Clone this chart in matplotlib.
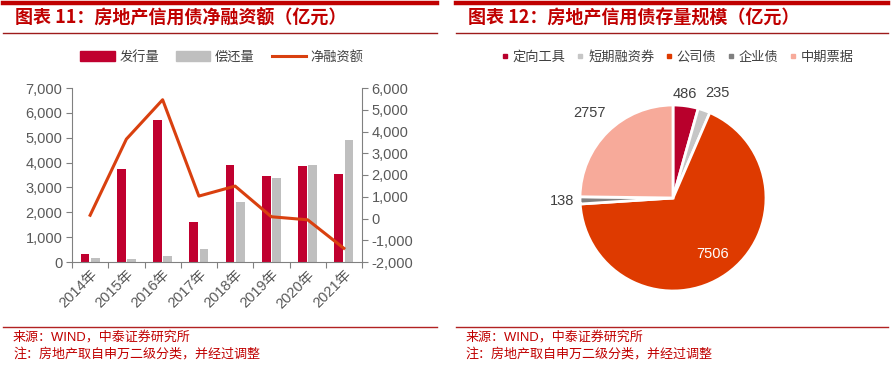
import numpy as np
import matplotlib.pyplot as plt
from matplotlib.patches import Patch
from matplotlib.lines import Line2D

plt.rcParams['font.family'] = ['Liberation Sans', 'Noto Sans CJK SC', 'DejaVu Sans']

# ---- data ----
years = ['2014年', '2015年', '2016年', '2017年', '2018年', '2019年', '2020年', '2021年']
issue = [330, 3750, 5700, 1590, 3900, 3460, 3860, 3540]
repay = [180, 110, 230, 540, 2410, 3380, 3890, 4900]
net = [150, 3650, 5460, 1030, 1490, 80, -60, -1370]

pie_names = ['定向工具', '短期融资券', '公司债', '企业债', '中期票据']
pie_vals = [486, 235, 7506, 138, 2757]

RED = '#C0002F'
GRAY = '#BFBFBF'
LINE = '#D9400F'
TXT = '#595959'
TITLE = '#C00000'
pie_colors = ['#B8002C', '#C6C6C6', '#DE3A00', '#7F7F7F', '#F7AA9A']

W, H = 893, 368
fig = plt.figure(figsize=(W / 100, H / 100), dpi=100)

def box(x0, y0, x1, y1):
    # pixel box (top-left origin) -> figure fraction
    return [x0 / W, 1 - y1 / H, (x1 - x0) / W, (y1 - y0) / H]

def hline(x0, x1, y, lw, c):
    fig.add_artist(Line2D([x0 / W, x1 / W], [1 - y / H, 1 - y / H], lw=lw, color=c))

# headers and footers
for x0, x1, t in [(3, 437, '图表 11：房地产信用债净融资额（亿元）'),
                  (456, 888, '图表 12：房地产信用债存量规模（亿元）')]:
    hline(x0, x1, 3, 3.2, '#C00000')
    hline(x0, x1, 32.5, 1.0, '#9E1B1B')
    fig.text((x0 + 12) / W, 1 - 18 / H, t, color=TITLE, fontsize=13, fontweight='bold',
             style='italic', va='center', ha='left',
             family=['Noto Sans CJK SC', 'DejaVu Sans'])
    hline(x0, x1, 327, 1.0, '#B22222')
    fig.text((x0 + 10) / W, 1 - 337 / H, '来源：WIND，中泰证券研究所', color='#C00000',
             fontsize=9.4, va='center', ha='left')
    fig.text((x0 + 10) / W, 1 - 354 / H, '注：房地产取自申万二级分类，并经过调整', color='#C00000',
             fontsize=9.4, va='center', ha='left',
             family=['Noto Sans CJK SC', 'DejaVu Sans'])

# ---- left: bars + line ----
ax = fig.add_axes(box(72, 88, 362, 262))
x = np.arange(len(years))
w = 0.24
ax.bar(x - 0.14, issue, w, color=RED, zorder=2)
ax.bar(x + 0.14, repay, w, color=GRAY, zorder=2)
ax.set_xlim(-0.5, len(years) - 0.5)
ax.set_ylim(0, 7000)
ax.set_yticks(range(0, 7001, 1000))
ax.set_yticklabels([f'{v:,}' for v in range(0, 7001, 1000)])
ax.set_xticks(np.arange(-0.5, len(years), 1.0))
ax.set_xticklabels([])
ax.set_xticks(x, minor=True)
ax.set_xticklabels(years, minor=True, rotation=45, ha='right', rotation_mode='anchor')
ax.tick_params(axis='x', which='minor', length=0, pad=4, labelsize=10.5, labelcolor=TXT)
ax.tick_params(axis='x', which='major', length=4, color='#808080')
ax.tick_params(axis='y', length=4, color='#808080', labelsize=10.5, labelcolor=TXT, pad=3)
for s in ['top', 'right']:
    ax.spines[s].set_visible(False)
for s in ['left', 'bottom']:
    ax.spines[s].set_color('#808080')

ax2 = ax.twinx()
ax2.plot(x, net, color=LINE, lw=2.2, zorder=3)
ax2.set_ylim(-2000, 6000)
ax2.set_yticks(range(-2000, 6001, 1000))
ax2.set_yticklabels([f'{v:,}' for v in range(-2000, 6001, 1000)])
ax2.tick_params(axis='y', length=4, color='#808080', labelsize=10.5, labelcolor=TXT, pad=3)
for s in ['top', 'left', 'bottom']:
    ax2.spines[s].set_visible(False)
ax2.spines['right'].set_color('#808080')

handles = [Patch(color=RED), Patch(color=GRAY), Line2D([], [], color=LINE, lw=2.2)]
fig.legend(handles, ['发行量', '偿还量', '净融资额'], loc='center',
           bbox_to_anchor=(222 / W, 1 - 57 / H), ncol=3, frameon=False,
           handlelength=2.6, handleheight=0.75, columnspacing=1.3, handletextpad=0.35,
           prop={'family': ['Noto Sans CJK SC'], 'size': 9.5}, labelcolor='#404040')

# ---- right: pie ----
pax = fig.add_axes(box(580, 105, 766, 291))
wedges, _ = pax.pie(pie_vals, colors=pie_colors, startangle=90, counterclock=False,
                    wedgeprops=dict(edgecolor='white', linewidth=2))
pax.set_xlim(-1, 1)
pax.set_ylim(-1, 1)
pax.set_aspect('auto')
dists = [1.13, 1.2, 0.74, 1.19, 1.28]
shift = [-0.03, 0.08, 0, 0, 0]
for wd, v, d, s in zip(wedges, pie_vals, dists, shift):
    a = np.deg2rad((wd.theta1 + wd.theta2) / 2)
    col = 'white' if d < 1 else '#404040'
    pax.text(d * np.cos(a) + s, d * np.sin(a), str(v), ha='center', va='center',
             fontsize=10.5, color=col)

ph = [Line2D([], [], marker='s', ls='', color=c, markersize=3.2) for c in pie_colors]
fig.legend(ph, pie_names, loc='center', bbox_to_anchor=(678 / W, 1 - 57 / H), ncol=5,
           frameon=False, handlelength=0.4, handletextpad=0.4, columnspacing=0.9,
           prop={'family': ['Noto Sans CJK SC'], 'size': 9.5}, labelcolor='#404040')

fig.savefig('out.png', dpi=100)
